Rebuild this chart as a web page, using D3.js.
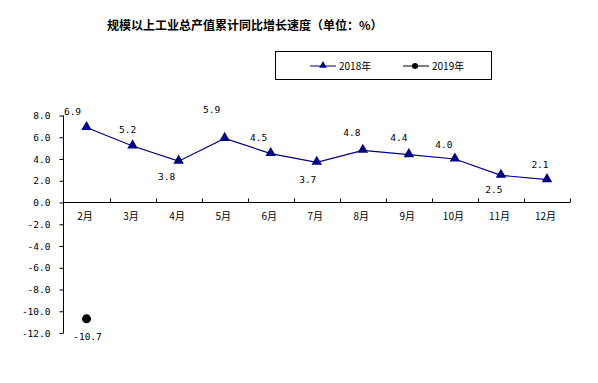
<!DOCTYPE html>
<html>
<head>
<meta charset="utf-8">
<script src="https://cdn.jsdelivr.net/npm/d3@7"></script>
<style>
  html, body { margin: 0; padding: 0; background: #fff; }
  svg { display: block; }
</style>
</head>
<body>
<svg id="chart" width="598" height="383"></svg>
<script>
// ---- data ----
const titleText = "规模以上工业总产值累计同比增长速度（单位：%）";
const categories = ["2月","3月","4月","5月","6月","7月","8月","9月","10月","11月","12月"];
const seriesNames = ["2018年", "2019年"];
const values2018 = [6.9, 5.2, 3.8, 5.9, 4.5, 3.7, 4.8, 4.4, 4.0, 2.5, 2.1];
const labels2018 = ["6.9","5.2","3.8","5.9","4.5","3.7","4.8","4.4","4.0","2.5","2.1"];
const values2019 = [-10.7];
const labels2019 = ["-10.7"];
const yTicks = [8, 6, 4, 2, 0, -2, -4, -6, -8, -10, -12];
const yTickLabels = ["8.0","6.0","4.0","2.0","0.0","-2.0","-4.0","-6.0","-8.0","-10.0","-12.0"];

// ---- label placement (style) ----
const labelOffsets2018 = [[-14,-16],[-5,-16],[-12,15],[-13,-29],[-12,-16],[-9,17],[-11,-18],[-10,-17],[-11,-14],[-7,14],[-7,-15]];
const labelOffsets2019 = [[1,18]];

const navy = "#000080";
const monoFont = "'DejaVu Sans Mono', 'Liberation Mono', monospace";
const cjkFont = "'Noto Sans CJK SC', sans-serif";

const svg = d3.select("#chart");

const x = d3.scaleBand().domain(categories).range([63.5, 570]);
const y = d3.scaleLinear().domain([-12, 8]).range([333, 115.5]);
const cx = d => x(d) + x.bandwidth() / 2;

// title
svg.append("text")
  .attr("x", 107).attr("y", 30)
  .attr("font-family", cjkFont)
  .attr("font-weight", "bold")
  .attr("font-size", 12)
  .attr("fill", "#000")
  .text(titleText);

// y axis
const yAxis = d3.axisLeft(y)
  .tickValues(yTicks)
  .tickSize(4)
  .tickPadding(9)
  .tickFormat((d, i) => yTickLabels[i]);
const gy = svg.append("g").attr("transform", "translate(63.5,0)").call(yAxis);
gy.select(".domain").attr("stroke", "#000").attr("d", `M0,${y(8)}V${y(-12)}`);
gy.selectAll(".tick line").attr("stroke", "#000");
gy.selectAll(".tick text")
  .attr("font-family", monoFont)
  .attr("font-size", 9.5)
  .attr("fill", "#000");

// x axis at zero
const gx = svg.append("g").attr("transform", `translate(0,${y(0)})`);
gx.append("line")
  .attr("x1", x.range()[0]).attr("x2", x.range()[1])
  .attr("y1", 0).attr("y2", 0)
  .attr("stroke", "#000");
gx.selectAll("line.tk")
  .data(categories)
  .join("line")
  .attr("class", "tk")
  .attr("x1", d => Math.round(x(d) + x.bandwidth()) + 0.5)
  .attr("x2", d => Math.round(x(d) + x.bandwidth()) + 0.5)
  .attr("y1", -4).attr("y2", 0)
  .attr("stroke", "#000");
gx.selectAll("text")
  .data(categories)
  .join("text")
  .attr("x", d => cx(d) - 1.5)
  .attr("y", 17)
  .attr("text-anchor", "middle")
  .attr("font-family", cjkFont)
  .attr("font-size", 10)
  .attr("fill", "#000")
  .text(d => d);

// 2018 line
const pts2018 = values2018.map((v, i) => ({ c: categories[i], v, i }));
svg.append("path")
  .datum(pts2018)
  .attr("fill", "none")
  .attr("stroke", navy)
  .attr("stroke-width", 1.2)
  .attr("d", d3.line().x(d => cx(d.c)).y(d => y(d.v)));

const tri = d3.symbol().type(d3.symbolTriangle).size(48);
svg.selectAll("path.tri")
  .data(pts2018)
  .join("path")
  .attr("class", "tri")
  .attr("transform", d => `translate(${cx(d.c)},${y(d.v) - 0.5})`)
  .attr("d", tri)
  .attr("fill", navy);

svg.selectAll("text.lbl18")
  .data(pts2018)
  .join("text")
  .attr("class", "lbl18")
  .attr("x", d => cx(d.c) + labelOffsets2018[d.i][0])
  .attr("y", d => y(d.v) + labelOffsets2018[d.i][1])
  .attr("dy", "0.35em")
  .attr("text-anchor", "middle")
  .attr("font-family", monoFont)
  .attr("font-size", 9.5)
  .attr("fill", "#000")
  .text(d => labels2018[d.i]);

// 2019 points
const pts2019 = values2019.map((v, i) => ({ c: categories[i], v, i }));
svg.selectAll("circle.p19")
  .data(pts2019)
  .join("circle")
  .attr("class", "p19")
  .attr("cx", d => cx(d.c))
  .attr("cy", d => y(d.v))
  .attr("r", 4.5)
  .attr("fill", "#000");
svg.selectAll("text.lbl19")
  .data(pts2019)
  .join("text")
  .attr("class", "lbl19")
  .attr("x", d => cx(d.c) + labelOffsets2019[d.i][0])
  .attr("y", d => y(d.v) + labelOffsets2019[d.i][1])
  .attr("dy", "0.35em")
  .attr("text-anchor", "middle")
  .attr("font-family", monoFont)
  .attr("font-size", 9.5)
  .attr("fill", "#000")
  .text(d => labels2019[d.i]);

// legend
const lg = svg.append("g");
lg.append("rect")
  .attr("x", 275.5).attr("y", 51.5)
  .attr("width", 216).attr("height", 28)
  .attr("fill", "#fff").attr("stroke", "#000").attr("stroke-width", 1);
const legendItems = [
  { name: seriesNames[0], color: navy, sym: "tri", x0: 310 },
  { name: seriesNames[1], color: "#000", sym: "dot", x0: 403 }
];
const ly = 66;
legendItems.forEach(it => {
  lg.append("line")
    .attr("x1", it.x0).attr("x2", it.x0 + 26)
    .attr("y1", ly).attr("y2", ly)
    .attr("stroke", it.color).attr("stroke-width", 1);
  if (it.sym === "tri") {
    lg.append("path")
      .attr("transform", `translate(${it.x0 + 13},${ly - 0.5})`)
      .attr("d", d3.symbol().type(d3.symbolTriangle).size(26)())
      .attr("fill", it.color);
  } else {
    lg.append("circle")
      .attr("cx", it.x0 + 12).attr("cy", ly).attr("r", 3)
      .attr("fill", it.color);
  }
  lg.append("text")
    .attr("x", it.x0 + 29).attr("y", ly)
    .attr("dy", "0.35em")
    .attr("font-family", cjkFont)
    .attr("font-size", 10)
    .attr("fill", "#000")
    .text(it.name);
});
</script>
</body>
</html>
